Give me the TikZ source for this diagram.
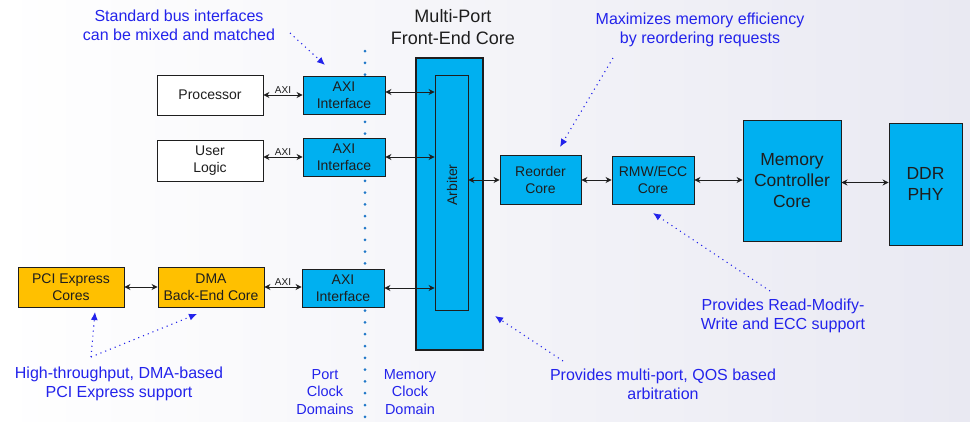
\documentclass[tikz,border=0pt]{standalone}
\usepackage{fontspec}
\setmainfont{Liberation Sans}
\usetikzlibrary{arrows.meta}
\definecolor{blockblue}{HTML}{00B0F0}
\definecolor{blockorange}{HTML}{FFC000}
\definecolor{notecolor}{RGB}{35,35,235}
\definecolor{dotblue}{HTML}{1F78C8}
\definecolor{bgtint}{RGB}{233,233,242}
\definecolor{inkgray}{RGB}{30,30,30}
\tikzset{
  blk/.style={draw=inkgray,line width=0.9pt,fill=blockblue,align=center,inner sep=0pt,
    text=inkgray,font=\fontsize{14}{17}\selectfont},
  whiteblk/.style={blk,fill=white},
  orangeblk/.style={blk,fill=blockorange},
  bigblk/.style={blk,font=\fontsize{17.5}{21}\selectfont},
  conn/.style={{Stealth[length=6pt,width=6pt]}-{Stealth[length=6pt,width=6pt]},line width=0.9pt,inkgray},
  buslabel/.style={font=\fontsize{10}{12}\selectfont,text=inkgray,inner sep=1pt,above},
  notetext/.style={text=notecolor,align=center,inner sep=0pt,font=\fontsize{16}{19}\selectfont},
  notearrow/.style={notecolor,line width=1.1pt,dash pattern=on 1.1pt off 4pt,-{Latex[length=8pt,width=7pt]}},
  clocktext/.style={notetext,font=\fontsize{14.5}{17.5}\selectfont},
}
\begin{document}
\begin{tikzpicture}[x=1pt,y=-1pt]
    \shade[left color=white,right color=bgtint] (0,0) rectangle (970,421);
    \useasboundingbox (0,0) rectangle (970,421);
    % clock domain border
    \coordinate (clkTop) at (365,51);
    \coordinate (clkBot) at (365,421);
    \draw[dotblue,line width=3pt,line cap=round,dash pattern=on 0pt off 11.8pt] (clkTop) -- (clkBot);
    % ports
    \node[whiteblk,minimum width=106,minimum height=40] (proc) at (210,95) {Processor};
    \node[whiteblk,minimum width=106,minimum height=41] (user) at (210,160.5) {User\\Logic};
    \node[orangeblk,minimum width=106,minimum height=40] (pcie) at (71,287) {PCI Express\\Cores};
    \node[orangeblk,minimum width=106,minimum height=40] (dma) at (211,287) {DMA\\Back-End Core};
    \node[blk,minimum width=82,minimum height=38] (axiA) at (344,95) {AXI\\Interface};
    \node[blk,minimum width=82,minimum height=38] (axiB) at (344,157) {AXI\\Interface};
    \node[blk,minimum width=82,minimum height=38] (axiC) at (343,288) {AXI\\Interface};
    % front-end core
    \node[blk,line width=2pt,minimum width=67,minimum height=292] (front) at (449.5,204) {};
    \node[text=inkgray,align=center,font=\fontsize{18}{22}\selectfont] (frontTitle) at (453,27) {Multi-Port\\Front-End Core};
    \node[blk,minimum width=33,minimum height=235] (arb) at (451.5,192.5) {};
    \node[rotate=90,text=inkgray,font=\fontsize{14}{17}\selectfont] (arbText) at (452,185) {Arbiter};
    % memory side
    \node[blk,minimum width=81,minimum height=49] (reorder) at (540.5,180) {Reorder\\Core};
    \node[blk,minimum width=82,minimum height=48] (rmw) at (653,180) {RMW/ECC\\Core};
    \node[bigblk,minimum width=98,minimum height=121] (mcc) at (792,180.5) {Memory\\Controller\\Core};
    \node[bigblk,minimum width=73,minimum height=122] (phy) at (925.5,184) {DDR\\PHY};
    % connections
    \draw[conn] (proc.east) -- (axiA.west) node[buslabel,midway] {AXI};
    \draw[conn] (axiB.west -| user.east) -- (axiB.west) node[buslabel,midway] {AXI};
    \draw[conn] (pcie.east) -- (dma.west);
    \draw[conn] (dma.east) -- (dma.east -| axiC.west) node[buslabel,midway] {AXI};
    \draw[conn] ([yshift=3pt]axiA.east) -- ([yshift=3pt]axiA.east -| arb.west);
    \draw[conn] (axiB.east) -- (axiB.east -| arb.west);
    \draw[conn] (axiC.east) -- (axiC.east -| arb.west);
    \draw[conn] (reorder.west -| arb.east) -- (reorder.west);
    \draw[conn] (reorder.east) -- (rmw.west);
    \draw[conn] (rmw.east) -- (rmw.east -| mcc.west);
    \draw[conn] ([yshift=-2pt]mcc.east) -- ([yshift=-2pt]mcc.east -| phy.west);
    % notes
    \node[notetext] (noteBus) at (179,25) {Standard bus interfaces\\can be mixed and matched};
    \node[notetext] (noteReorder) at (700,30) {Maximizes memory efficiency\\by reordering requests};
    \node[notetext] (noteRmw) at (783,316) {Provides Read-Modify-\\Write and ECC support};
    \node[notetext] (noteArb) at (663,384) {Provides multi-port, QOS based\\arbitration};
    \node[notetext] (notePcie) at (119,384) {High-throughput, DMA-based\\PCI Express support};
    \node[clocktext] (portClk) at (325,392) {Port\\Clock\\Domains};
    \node[clocktext] (memClk) at (410,392) {Memory\\Clock\\Domain};
    \coordinate (busTail) at (290,33);
    \coordinate (busHead) at (325,65);
    \coordinate (reoTail) at (613,58);
    \coordinate (reoHead) at (560,147);
    \coordinate (rmwTail) at (770,291);
    \coordinate (rmwHead) at (653,213);
    \coordinate (arbTail) at (563,361);
    \coordinate (arbHead) at (495,316);
    \coordinate (pcieTail) at (91,357);
    \coordinate (pcieHead) at (95,312);
    \coordinate (dmaHead) at (197,314);
    \draw[notearrow] (busTail) -- (busHead);
    \draw[notearrow] (reoTail) -- (reoHead);
    \draw[notearrow] (rmwTail) -- (rmwHead);
    \draw[notearrow] (arbTail) -- (arbHead);
    \draw[notearrow] (pcieTail) -- (pcieHead);
    \draw[notearrow] (pcieTail) -- (dmaHead);
\end{tikzpicture}
\end{document}
